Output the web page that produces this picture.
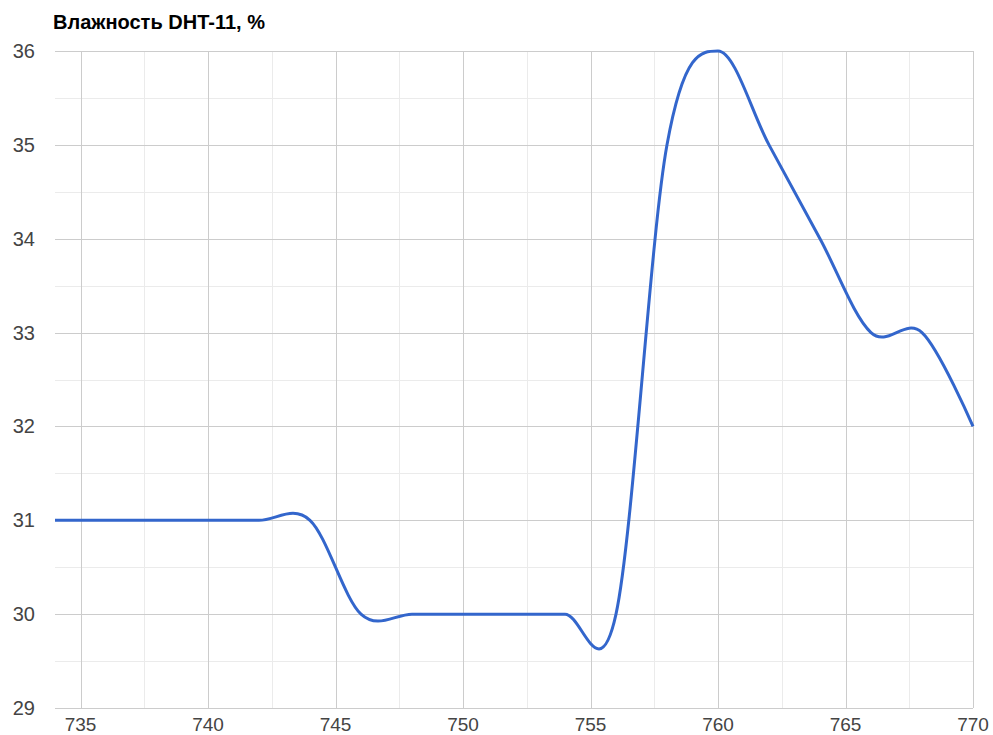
<!DOCTYPE html>
<html>
<head>
<meta charset="utf-8">
<script src="https://cdn.jsdelivr.net/npm/d3@7"></script>
<style>
  body { margin: 0; background: #fff; }
  text { font-family: "Liberation Sans", Arial, sans-serif; }
</style>
</head>
<body>
<div class="chart"></div>
<script>
const width = 993;
const height = 735;

// data
const readings = [734, 736, 738, 740, 742, 744, 746, 748, 750, 752, 754, 756, 758, 760, 762, 764, 766, 768, 770];
const humidity = [31, 31, 31, 31, 31, 31, 30, 30, 30, 30, 30, 30, 35, 36, 35, 34, 33, 33, 32];
const xTicks = [735, 740, 745, 750, 755, 760, 765, 770];
const xMinor = [737.5, 742.5, 747.5, 752.5, 757.5, 762.5, 767.5];
const yTicks = [29, 30, 31, 32, 33, 34, 35, 36];
const yMinor = [29.5, 30.5, 31.5, 32.5, 33.5, 34.5, 35.5];
const title = "Влажность DHT-11, %";

const margin = { top: 51, right: 20, bottom: 27, left: 55 };

const svg = d3
  .select(".chart")
  .append("svg")
  .attr("width", width)
  .attr("height", height);

const x = d3
  .scaleLinear()
  .domain([734, 770])
  .range([margin.left, width - margin.right]);

const y = d3
  .scaleLinear()
  .domain([29, 36])
  .range([height - margin.bottom, margin.top]);

// minor gridlines
svg
  .append("g")
  .selectAll("line")
  .data(yMinor)
  .enter()
  .append("line")
  .attr("x1", x.range()[0])
  .attr("x2", x.range()[1])
  .attr("y1", (d) => Math.round(y(d)) + 0.5)
  .attr("y2", (d) => Math.round(y(d)) + 0.5)
  .attr("stroke", "#ebebeb");

svg
  .append("g")
  .selectAll("line")
  .data(xMinor)
  .enter()
  .append("line")
  .attr("y1", y.range()[0])
  .attr("y2", y.range()[1])
  .attr("x1", (d) => Math.round(x(d)) + 0.5)
  .attr("x2", (d) => Math.round(x(d)) + 0.5)
  .attr("stroke", "#ebebeb");

// major gridlines
svg
  .append("g")
  .selectAll("line")
  .data(yTicks)
  .enter()
  .append("line")
  .attr("x1", x.range()[0])
  .attr("x2", x.range()[1])
  .attr("y1", (d) => Math.round(y(d)) + 0.5)
  .attr("y2", (d) => Math.round(y(d)) + 0.5)
  .attr("stroke", "#cccccc");

svg
  .append("g")
  .selectAll("line")
  .data(xTicks)
  .enter()
  .append("line")
  .attr("y1", y.range()[0])
  .attr("y2", y.range()[1])
  .attr("x1", (d) => Math.round(x(d)) + 0.5)
  .attr("x2", (d) => Math.round(x(d)) + 0.5)
  .attr("stroke", "#cccccc");

// tick labels
svg
  .append("g")
  .selectAll("text")
  .data(yTicks)
  .enter()
  .append("text")
  .attr("x", 35)
  .attr("y", (d) => y(d) + 7)
  .attr("text-anchor", "end")
  .attr("font-size", "20px")
  .attr("fill", "#444")
  .text((d) => d);

svg
  .append("g")
  .selectAll("text")
  .data(xTicks)
  .enter()
  .append("text")
  .attr("x", (d) => x(d))
  .attr("y", 731)
  .attr("text-anchor", "middle")
  .attr("font-size", "19px")
  .attr("fill", "#444")
  .text((d) => d);

// the line
const points = readings.map((r, i) => [r, humidity[i]]);

const line = d3
  .line()
  .x((d) => x(d[0]))
  .y((d) => y(d[1]))
  .curve(d3.curveCardinal.tension(0));

svg
  .append("path")
  .datum(points)
  .attr("d", line)
  .attr("fill", "none")
  .attr("stroke", "#3366cc")
  .attr("stroke-width", 3);

// title
svg
  .append("text")
  .attr("x", 53)
  .attr("y", 29)
  .attr("font-size", "20px")
  .attr("font-weight", "bold")
  .attr("fill", "#000")
  .text(title);
</script>
</body>
</html>
